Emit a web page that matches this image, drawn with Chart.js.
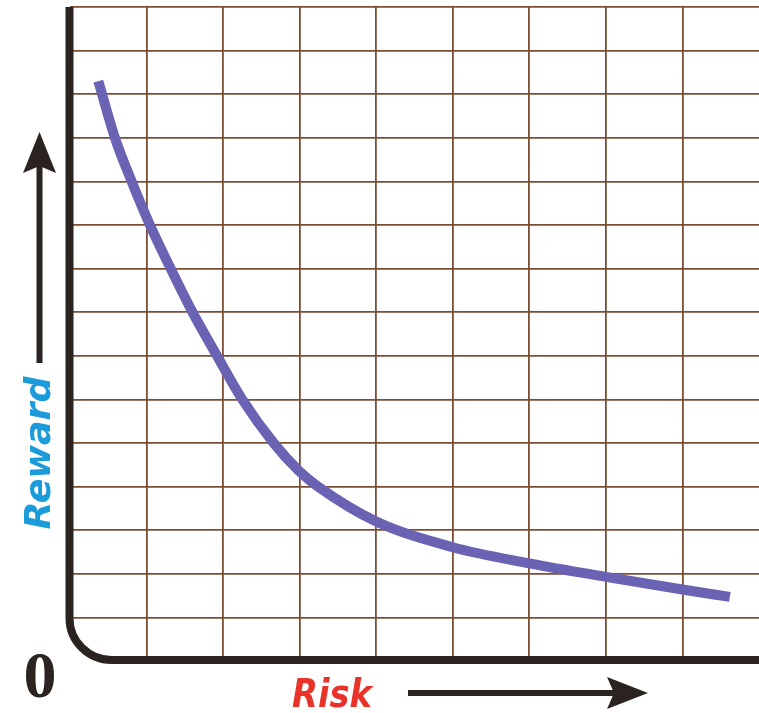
<!DOCTYPE html>
<html>
<head>
<meta charset="utf-8">
<script src="https://cdn.jsdelivr.net/npm/chart.js@4.4.1/dist/chart.umd.min.js"></script>
<style>
html,body{margin:0;padding:0;background:#fff;}
#wrap{width:759px;height:713px;position:relative;}
</style>
</head>
<body>
<div id="wrap"><canvas id="c" width="759" height="713"></canvas></div>
<script>
// Data (grid units: 9 columns of risk, 15 rows of reward)
const riskValues   = [0.37, 0.587, 0.805, 1.044, 1.315, 1.6, 1.92, 2.25, 2.66, 2.99, 3.24, 4.0, 5.0, 6.0, 7.0, 8.0, 8.62];
const rewardValues = [13.3, 12.0, 11.0, 10.0, 9.0, 8.0, 7.0, 6.0, 5.0, 4.36, 4.0, 3.2, 2.61, 2.24, 1.93, 1.64, 1.47];
const xMax = 9;
const yMax = 15;
const xAxisLabel = 'Risk';
const yAxisLabel = 'Reward';
const originLabel = '0';

const points = riskValues.map((x, i) => ({x: x, y: rewardValues[i]}));

const GRID = '#7d4e34';
const INK = '#2a2320';

const decorPlugin = {
  id: 'decor',
  afterDraw(chart) {
    const ctx = chart.ctx;
    const xs = chart.scales.x, ys = chart.scales.y;
    const L = xs.getPixelForValue(0) - 0.5;
    const B = ys.getPixelForValue(0) - 1;
    const T = ys.getPixelForValue(yMax);
    const R = 42;
    ctx.save();
    // thick axes with rounded corner
    ctx.strokeStyle = INK;
    ctx.lineWidth = 8;
    ctx.lineCap = 'butt';
    ctx.beginPath();
    ctx.moveTo(L, T);
    ctx.lineTo(L, B - R);
    ctx.arcTo(L, B, L + R, B, R);
    ctx.lineTo(chart.width + 5, B);
    ctx.stroke();

    // origin label
    ctx.fillStyle = INK;
    ctx.font = 'bold 66px "Liberation Serif", "DejaVu Serif", serif';
    ctx.textAlign = 'center';
    ctx.textBaseline = 'alphabetic';
    ctx.fillText(originLabel, 40, 697);

    // up arrow
    ctx.lineWidth = 6;
    ctx.beginPath();
    ctx.moveTo(39.5, 363);
    ctx.lineTo(39.5, 160);
    ctx.stroke();
    ctx.beginPath();
    ctx.moveTo(39.5, 132);
    ctx.lineTo(56, 173);
    ctx.lineTo(39.5, 166);
    ctx.lineTo(23, 173);
    ctx.closePath();
    ctx.fill();

    // right arrow
    ctx.beginPath();
    ctx.moveTo(408, 693);
    ctx.lineTo(620, 693);
    ctx.stroke();
    ctx.beginPath();
    ctx.moveTo(648, 693);
    ctx.lineTo(607, 709);
    ctx.lineTo(614, 693);
    ctx.lineTo(607, 677);
    ctx.closePath();
    ctx.fill();

    // Reward label (rotated)
    ctx.save();
    ctx.font = 'italic bold 36px "DejaVu Sans", sans-serif';
    let w = ctx.measureText(yAxisLabel).width;
    ctx.translate(50, 453);
    ctx.rotate(-Math.PI / 2);
    ctx.scale(153 / w, 1);
    ctx.fillStyle = '#1b9bd9';
    ctx.textAlign = 'center';
    ctx.fillText(yAxisLabel, 0, 0);
    ctx.restore();

    // Risk label
    ctx.save();
    ctx.font = 'italic bold 39px "DejaVu Sans", sans-serif';
    w = ctx.measureText(xAxisLabel).width;
    ctx.translate(292, 707);
    ctx.scale(80 / w, 1);
    ctx.fillStyle = '#e8332b';
    ctx.textAlign = 'left';
    ctx.fillText(xAxisLabel, 0, 0);
    ctx.restore();

    ctx.restore();
  }
};

new Chart(document.getElementById('c'), {
  type: 'scatter',
  data: {
    datasets: [{
      data: points,
      showLine: true,
      borderColor: '#6a62b2',
      borderWidth: 10,
      borderCapStyle: 'butt',
      cubicInterpolationMode: 'monotone',
      pointRadius: 0,
      pointHoverRadius: 0,
      fill: false
    }]
  },
  options: {
    responsive: false,
    animation: false,
    devicePixelRatio: 1,
    layout: {padding: {left: 70, top: 7, right: 0, bottom: 52}},
    plugins: {legend: {display: false}, tooltip: {enabled: false}},
    scales: {
      x: {
        type: 'linear', min: 0, max: xMax,
        ticks: {display: false, stepSize: 1},
        border: {display: false},
        grid: {
          drawTicks: false, lineWidth: 1.8,
          color: c => (c.tick && (c.tick.value === 0 || c.tick.value === xMax)) ? 'rgba(0,0,0,0)' : GRID
        }
      },
      y: {
        type: 'linear', min: 0, max: yMax,
        ticks: {display: false, stepSize: 1},
        border: {display: false},
        grid: {
          drawTicks: false, lineWidth: 1.8,
          color: c => (c.tick && c.tick.value === 0) ? 'rgba(0,0,0,0)' : GRID
        }
      }
    }
  },
  plugins: [decorPlugin]
});
</script>
</body>
</html>
